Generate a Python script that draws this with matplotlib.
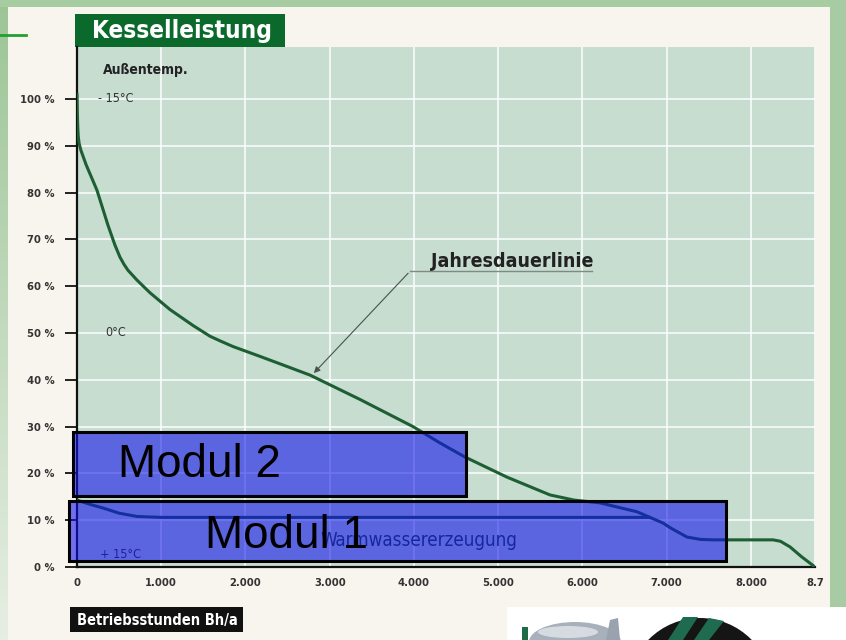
#!/usr/bin/env python3
import numpy as np
import matplotlib
matplotlib.use('Agg')
from matplotlib import pyplot as plt
from matplotlib.patches import Rectangle, Ellipse, Circle, Polygon
from matplotlib.colors import LinearSegmentedColormap

NARROW = ['DejaVu Sans']

# Jahresdauerlinie: Betriebsstunden / Kesselleistung in %
hours = [0, 4, 9, 15, 25, 47, 107, 237, 368, 450, 510, 560, 605, 712, 866,
         1104, 1377, 1579, 1700, 1852, 2172, 2470, 2766, 3359, 3988, 4309,
         4605, 5104, 5614, 5900, 6208, 6647, 6955, 7050, 7240, 7400, 7549,
         8261, 8350, 8463, 8600, 8760]
load = [101, 97, 94, 92, 90.5, 89, 86, 80.5, 73, 68.8, 66.2, 64.6, 63.4,
        61.3, 58.6, 55, 51.6, 49.3, 48.3, 47.1, 45, 43, 41, 35.8, 30, 26.5,
        23.5, 19.2, 15.4, 14.3, 13.7, 11.8, 9.4, 8.3, 6.4, 5.9, 5.8,
        5.8, 5.5, 4.3, 2.2, 0]

# Warmwassererzeugung
ww_hours = [0, 150, 309, 500, 712, 1000, 6790]
ww_load = [14.3, 13.4, 12.6, 11.5, 10.8, 10.6, 10.6]

# Module (Stunden von/bis, Leistung von/bis)
modul_names = ['Modul 1', 'Modul 2']
modul_h0 = [-95, -47]
modul_h1 = [7703, 4617]
modul_p0 = [1.3, 15.2]
modul_p1 = [14.1, 28.8]
modul_txt_h = [1519, 487]
modul_txt_p = [4.1, 19.2]

yticks = [0, 10, 20, 30, 40, 50, 60, 70, 80, 90, 100]
xticks = [0, 1000, 2000, 3000, 4000, 5000, 6000, 7000, 8000, 8760]
xlabels = ['0', '1.000', '2.000', '3.000', '4.000', '5.000', '6.000',
           '7.000', '8.000', '8.7']

W, H = 846, 640
fig = plt.figure(figsize=(W / 100, H / 100), dpi=100)
fig.patch.set_facecolor('#f8f4ee')

# --- Dekoration im Pixelraster ---
deco = fig.add_axes([0, 0, 1, 1], zorder=0)
deco.set_xlim(0, W)
deco.set_ylim(H, 0)
deco.axis('off')

grad = LinearSegmentedColormap.from_list('g', ['#9cc596', '#e6eee3'])
deco.imshow(np.linspace(0, 1, 100).reshape(-1, 1), extent=[0, 8, H, 0],
            cmap=grad, aspect='auto')
deco.add_patch(Rectangle((0, 0), W, 7, color='#a7cca2', lw=0))
deco.add_patch(Rectangle((830, 0), 16, H, color='#a7cba2', lw=0))
deco.plot([0, 26], [35, 35], color='#22a02e', lw=2)

# Titel
deco.add_patch(Rectangle((75, 14), 210, 33, color='#0b6a2b', lw=0))
deco.text(92, 31, 'Kesselleistung', color='white', fontsize=17.5,
          fontweight='bold', va='center', ha='left', family=NARROW,
          fontstretch='condensed')

# x-Achsen-Beschriftung
deco.add_patch(Rectangle((70, 607), 173, 25, color='#111111', lw=0))
deco.text(77, 620, 'Betriebsstunden Bh/a', color='white', fontsize=10.5,
          fontweight='bold', va='center', ha='left', family=NARROW,
          fontstretch='condensed')

# Logo unten rechts
deco.add_patch(Rectangle((507, 607), 339, 33, color='white', lw=0))
deco.add_patch(Rectangle((522, 627), 6, 13, color='#1f6b45', lw=0))
deco.add_patch(Ellipse((575, 642), 92, 40, color='#a8b0bc', lw=0))
deco.add_patch(Ellipse((568, 632), 60, 12, color='#d6dbe2', lw=0))
deco.add_patch(Polygon([[606, 640], [610, 620], [618, 618], [620, 640]],
                       closed=True, color='#9aa2ae', lw=0))
deco.add_patch(Circle((700, 690), 72, color='#151515', lw=0))
deco.add_patch(Polygon([[668, 640], [683, 617], [698, 617], [683, 640]],
                       closed=True, color='#1f6b4f', lw=0))
deco.add_patch(Polygon([[694, 640], [709, 618], [724, 621], [709, 640]],
                       closed=True, color='#1f6b4f', lw=0))

# --- Diagramm ---
ax = fig.add_axes([77 / W, 1 - 567 / H, (815 - 77) / W, (567 - 47) / H],
                  zorder=1)
ax.set_facecolor('#c6ddd0')
ax.set_xlim(0, 8760)
ax.set_ylim(0, 111.1)

ax.set_yticks(yticks)
ax.set_yticklabels([str(v) + ' %' for v in yticks], family=NARROW,
                   fontsize=8, color='#333333', fontweight='bold',
                   fontstretch='condensed')
ax.set_xticks(xticks)
ax.set_xticklabels(xlabels, family=NARROW, fontsize=8, color='#333333',
                   fontweight='bold', fontstretch='condensed')
ax.tick_params(axis='y', length=9, width=1.3, pad=7, color='#111111')
ax.tick_params(axis='x', length=0, pad=8)
ax.grid(True, color='white', lw=1.2, alpha=0.9)
ax.set_axisbelow(True)
for s in ['top', 'right']:
    ax.spines[s].set_visible(False)
for s in ['left', 'bottom']:
    ax.spines[s].set_linewidth(1.6)
    ax.spines[s].set_color('#111111')

ax.plot(hours, load, color='#1d5e33', lw=2.2, zorder=3,
        solid_joinstyle='round')
ax.plot(ww_hours, ww_load, color='#1d5e33', lw=2.2, zorder=3,
        solid_joinstyle='round')

# Beschriftungen im Diagramm
ax.text(309, 106.2, 'Außentemp.', fontsize=10, fontweight='bold',
        color='#222222', va='center', family=NARROW, fontstretch='condensed')
ax.text(250, 100, '- 15°C', fontsize=9, color='#333333', va='center',
        family=NARROW, fontstretch='condensed')
ax.text(332, 50, '0°C', fontsize=9, color='#333333', va='center',
        family=NARROW, fontstretch='condensed')
ax.text(273, 2.6, '+ 15°C', fontsize=9, color='#333333', va='center',
        family=NARROW, zorder=3, fontstretch='condensed')
ax.text(5163, 65.3, 'Jahresdauerlinie', fontsize=14, fontweight='bold',
        color='#222222', ha='center', va='center', family=NARROW,
        fontstretch='condensed')
ax.plot([3953, 6113], [63.2, 63.2], color='#7f8a84', lw=1, zorder=3)
ax.annotate('', xy=(2789, 41), xytext=(3953, 63.2),
            arrowprops=dict(arrowstyle='-|>', color='#4a524d', lw=0.8,
                            mutation_scale=9), zorder=3)
ax.text(4059, 5.6, 'Warmwassererzeugung', fontsize=13.5, color='#1d4a2c',
        ha='center', va='center', family=NARROW, zorder=3,
        fontstretch='condensed')

# Module als halbtransparente Balken
for i in range(len(modul_names)):
    r = Rectangle((modul_h0[i], modul_p0[i]), modul_h1[i] - modul_h0[i],
                  modul_p1[i] - modul_p0[i],
                  facecolor=(0.06, 0.06, 0.93, 0.58), edgecolor='black',
                  lw=2.2, clip_on=False, zorder=4)
    ax.add_patch(r)
    ax.text(modul_txt_h[i], modul_txt_p[i], modul_names[i], fontsize=33,
            family=['Liberation Sans', 'DejaVu Sans'], color='black',
            va='baseline', ha='left', zorder=5)

fig.savefig('out.png', dpi=100, facecolor=fig.get_facecolor())
